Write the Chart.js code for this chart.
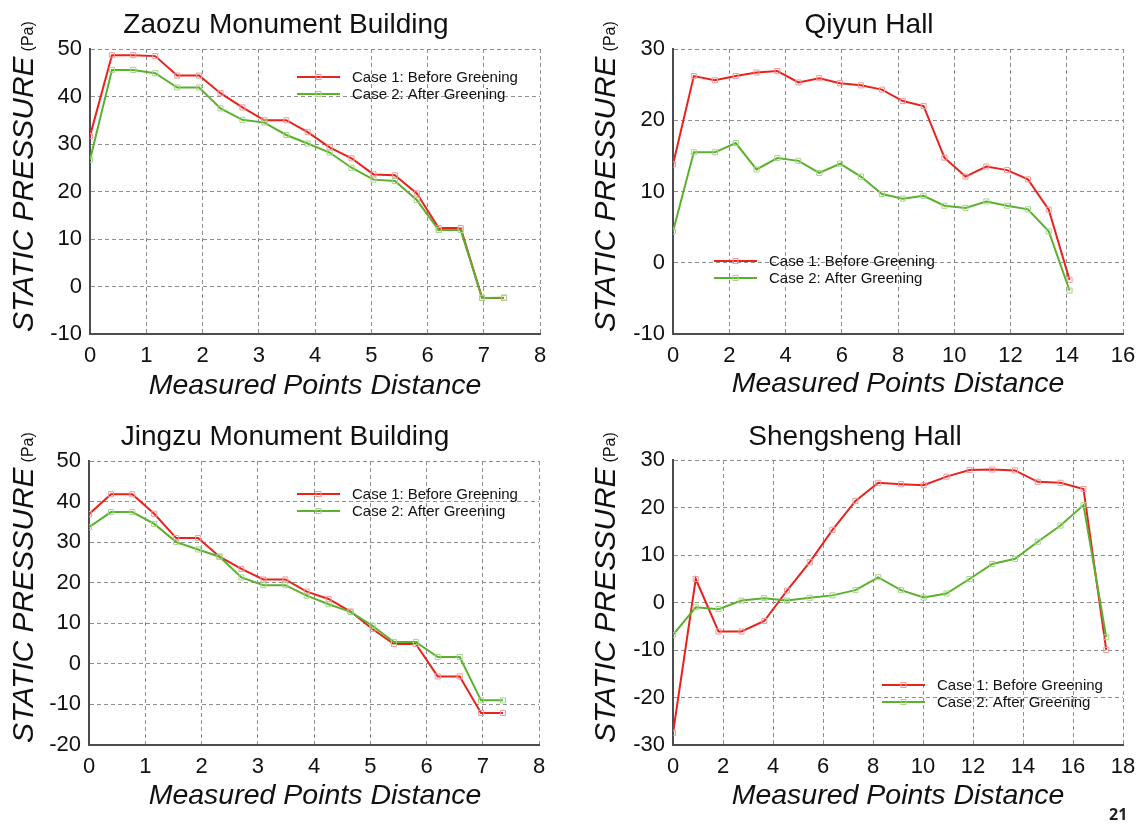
<!DOCTYPE html>
<html>
<head>
<meta charset="utf-8">
<title>Static pressure before and after greening</title>
<script src="https://cdn.jsdelivr.net/npm/chart.js@4.4.1/dist/chart.umd.min.js"></script>
<style>
  html, body { margin: 0; padding: 0; background: #fff; }
  #wrap { position: relative; width: 1147px; height: 827px; overflow: hidden; }
  #wrap canvas { position: absolute; left: 0; top: 0; }
  #page { position: absolute; left: 1109px; top: 803px; font: bold 16px "Open Sans", sans-serif; color: #222; }
</style>
</head>
<body>
<div id="wrap">
  <canvas id="zaozu" width="1147" height="827"></canvas>
  <canvas id="qiyun" width="1147" height="827"></canvas>
  <canvas id="jingzu" width="1147" height="827"></canvas>
  <canvas id="shengsheng" width="1147" height="827"></canvas>
  <div id="page">21</div>
</div>
<script>
// ---- measured data ----
const zaozuDistance = [0, 0.39, 0.77, 1.16, 1.55, 1.94, 2.32, 2.71, 3.10, 3.49, 3.87, 4.26, 4.65, 5.04, 5.42, 5.81, 6.20, 6.59, 6.97, 7.36];
const zaozuBefore = [31.7, 48.7, 48.7, 48.5, 44.4, 44.4, 40.7, 37.7, 35.0, 35.0, 32.5, 29.3, 27.0, 23.6, 23.4, 19.6, 12.3, 12.3, -2.4, -2.4];
const zaozuAfter = [26.7, 45.6, 45.6, 44.9, 41.9, 41.9, 37.5, 35.1, 34.5, 31.9, 30.1, 28.2, 25.0, 22.5, 22.2, 18.2, 11.9, 11.9, -2.4, -2.35];

const qiyunDistance = [0, 0.74, 1.49, 2.23, 2.97, 3.71, 4.46, 5.20, 5.94, 6.68, 7.43, 8.17, 8.91, 9.65, 10.40, 11.14, 11.88, 12.62, 13.36, 14.10];
const qiyunBefore = [13.8, 26.2, 25.6, 26.2, 26.7, 26.9, 25.3, 25.9, 25.2, 24.9, 24.3, 22.7, 22.0, 14.75, 12.1, 13.5, 13.0, 11.7, 7.45, -2.4];
const qiyunAfter = [4.4, 15.5, 15.5, 16.8, 13.1, 14.7, 14.3, 12.6, 13.9, 12.1, 9.65, 9.0, 9.4, 8.0, 7.7, 8.6, 8.0, 7.5, 4.4, -3.9];

const jingzuDistance = [0, 0.39, 0.77, 1.16, 1.55, 1.94, 2.32, 2.71, 3.10, 3.49, 3.87, 4.26, 4.65, 5.04, 5.42, 5.81, 6.20, 6.59, 6.97, 7.36];
const jingzuBefore = [36.9, 41.8, 41.8, 37.0, 31.0, 31.0, 26.4, 23.4, 20.8, 20.8, 17.8, 16.0, 12.9, 8.6, 4.9, 4.9, -3.1, -3.1, -12.1, -12.1];
const jingzuAfter = [33.7, 37.4, 37.4, 34.5, 30.0, 28.2, 26.4, 21.3, 19.4, 19.4, 16.8, 14.7, 12.8, 9.4, 5.4, 5.4, 1.7, 1.7, -9.0, -9.0];

const shengshengDistance = [0, 0.91, 1.82, 2.74, 3.65, 4.56, 5.47, 6.38, 7.30, 8.21, 9.12, 10.03, 10.94, 11.86, 12.77, 13.68, 14.59, 15.50, 16.42, 17.33];
const shengshengBefore = [-27.5, 4.95, -6.1, -6.1, -3.9, 2.5, 8.5, 15.3, 21.4, 25.2, 24.9, 24.7, 26.5, 27.9, 28.0, 27.8, 25.4, 25.2, 23.9, -10.0];
const shengshengAfter = [-6.8, -1.0, -1.4, 0.4, 0.9, 0.4, 1.0, 1.5, 2.6, 5.3, 2.6, 1.05, 1.9, 4.95, 8.1, 9.2, 12.8, 16.2, 20.5, -7.3];

const seriesNames = ['Case 1: Before Greening', 'Case 2: After Greening'];

// ---- styling ----
const W = 1147, H = 827;
const FONT = '"Liberation Sans", Arial, Helvetica, sans-serif';
const TEXT = '#111';
const RED = '#e8231e', GREEN = '#5cb030';
const RED_MARK = '#f09a9a', GREEN_MARK = '#a3d686';

// Titles, axis titles and the little legend box of each panel
const panelText = {
  id: 'panelText',
  afterDraw(chart, args, o) {
    const ctx = chart.ctx;
    ctx.save();
    ctx.fillStyle = TEXT;
    ctx.textBaseline = 'alphabetic';

    ctx.textAlign = 'center';
    ctx.font = '28px ' + FONT;
    ctx.fillText(o.title, o.titleX, o.titleY);

    ctx.font = 'italic 28.5px ' + FONT;
    ctx.fillText('Measured Points Distance', o.xTitleX, o.xTitleY);

    ctx.save();
    ctx.translate(o.yTitleX, o.yTitleY);
    ctx.rotate(-Math.PI / 2);
    ctx.textAlign = 'left';
    ctx.font = 'italic 30px ' + FONT;
    ctx.fillText('STATIC PRESSURE', 0, 0);
    const w = ctx.measureText('STATIC PRESSURE').width;
    ctx.font = '16px ' + FONT;
    ctx.fillText('(Pa)', w + 5, 0);
    ctx.restore();

    // legend: line with a square marker, then the label
    chart.data.datasets.forEach((ds, i) => {
      const y = o.legendY + i * 17;
      ctx.strokeStyle = ds.borderColor;
      ctx.lineWidth = 2;
      ctx.beginPath();
      ctx.moveTo(o.legendX, y);
      ctx.lineTo(o.legendX + 43, y);
      ctx.stroke();
      ctx.strokeStyle = ds.pointBorderColor;
      ctx.lineWidth = 1;
      ctx.strokeRect(o.legendX + 19, y - 2.5, 5, 5);
      ctx.fillStyle = TEXT;
      ctx.textAlign = 'left';
      ctx.textBaseline = 'middle';
      ctx.font = '15px ' + FONT;
      ctx.fillText(ds.label, o.legendX + 55, y + 1);
    });
    ctx.restore();
  }
};

function series(xs, ys) {
  return xs.map((x, i) => ({ x: x, y: ys[i] }));
}

function makePanel(id, xs, before, after, axes, area, text) {
  new Chart(document.getElementById(id), {
    type: 'line',
    data: {
      datasets: [
        { label: seriesNames[0], data: series(xs, before), borderColor: RED, borderWidth: 2,
          pointStyle: 'rect', pointRadius: 3.6, pointBorderWidth: 1,
          pointBorderColor: RED_MARK, pointBackgroundColor: 'rgba(0,0,0,0)',
          tension: 0, order: 1 },
        { label: seriesNames[1], data: series(xs, after), borderColor: GREEN, borderWidth: 2,
          pointStyle: 'rect', pointRadius: 3.6, pointBorderWidth: 1,
          pointBorderColor: GREEN_MARK, pointBackgroundColor: 'rgba(0,0,0,0)',
          tension: 0, order: 0 }
      ]
    },
    options: {
      responsive: false,
      animation: false,
      events: [],
      layout: { padding: { left: area.l - 60, right: W - area.r, top: area.t, bottom: H - area.b - 40 } },
      plugins: { legend: { display: false }, tooltip: { enabled: false }, panelText: text },
      scales: {
        x: {
          type: 'linear', min: 0, max: axes.xMax,
          ticks: { stepSize: axes.xStep, color: TEXT, font: { family: FONT, size: 22 }, padding: 9, maxRotation: 0 },
          grid: { color: '#8e8e8e', lineWidth: 1, drawTicks: false },
          border: { color: '#4d4d4d', width: 2, dash: [4, 3] },
          afterFit: s => { s.height = 40; }
        },
        y: {
          type: 'linear', min: axes.yMin, max: axes.yMax,
          ticks: { stepSize: 10, color: TEXT, font: { family: FONT, size: 22 }, padding: 8 },
          grid: { color: '#8e8e8e', lineWidth: 1, drawTicks: false },
          border: { color: '#4d4d4d', width: 2, dash: [4, 3] },
          afterFit: s => { s.width = 60; }
        }
      }
    },
    plugins: [panelText]
  });
}

makePanel('zaozu', zaozuDistance, zaozuBefore, zaozuAfter,
  { xMax: 8, xStep: 1, yMin: -10, yMax: 50 },
  { l: 90, r: 540, t: 49, b: 334 },
  { title: 'Zaozu Monument Building', titleX: 286, titleY: 33,
    xTitleX: 315, xTitleY: 394, yTitleX: 33, yTitleY: 332, legendX: 297, legendY: 77 });

makePanel('qiyun', qiyunDistance, qiyunBefore, qiyunAfter,
  { xMax: 16, xStep: 2, yMin: -10, yMax: 30 },
  { l: 673, r: 1123, t: 49, b: 334 },
  { title: 'Qiyun Hall', titleX: 869, titleY: 33,
    xTitleX: 898, xTitleY: 392, yTitleX: 615, yTitleY: 332, legendX: 714, legendY: 261 });

makePanel('jingzu', jingzuDistance, jingzuBefore, jingzuAfter,
  { xMax: 8, xStep: 1, yMin: -20, yMax: 50 },
  { l: 89, r: 539, t: 461, b: 745 },
  { title: 'Jingzu Monument Building', titleX: 285, titleY: 445,
    xTitleX: 315, xTitleY: 804, yTitleX: 33, yTitleY: 743, legendX: 297, legendY: 494 });

makePanel('shengsheng', shengshengDistance, shengshengBefore, shengshengAfter,
  { xMax: 18, xStep: 2, yMin: -30, yMax: 30 },
  { l: 673, r: 1123, t: 460, b: 745 },
  { title: 'Shengsheng Hall', titleX: 855, titleY: 445,
    xTitleX: 898, xTitleY: 804, yTitleX: 615, yTitleY: 743, legendX: 882, legendY: 685 });
</script>
</body>
</html>
